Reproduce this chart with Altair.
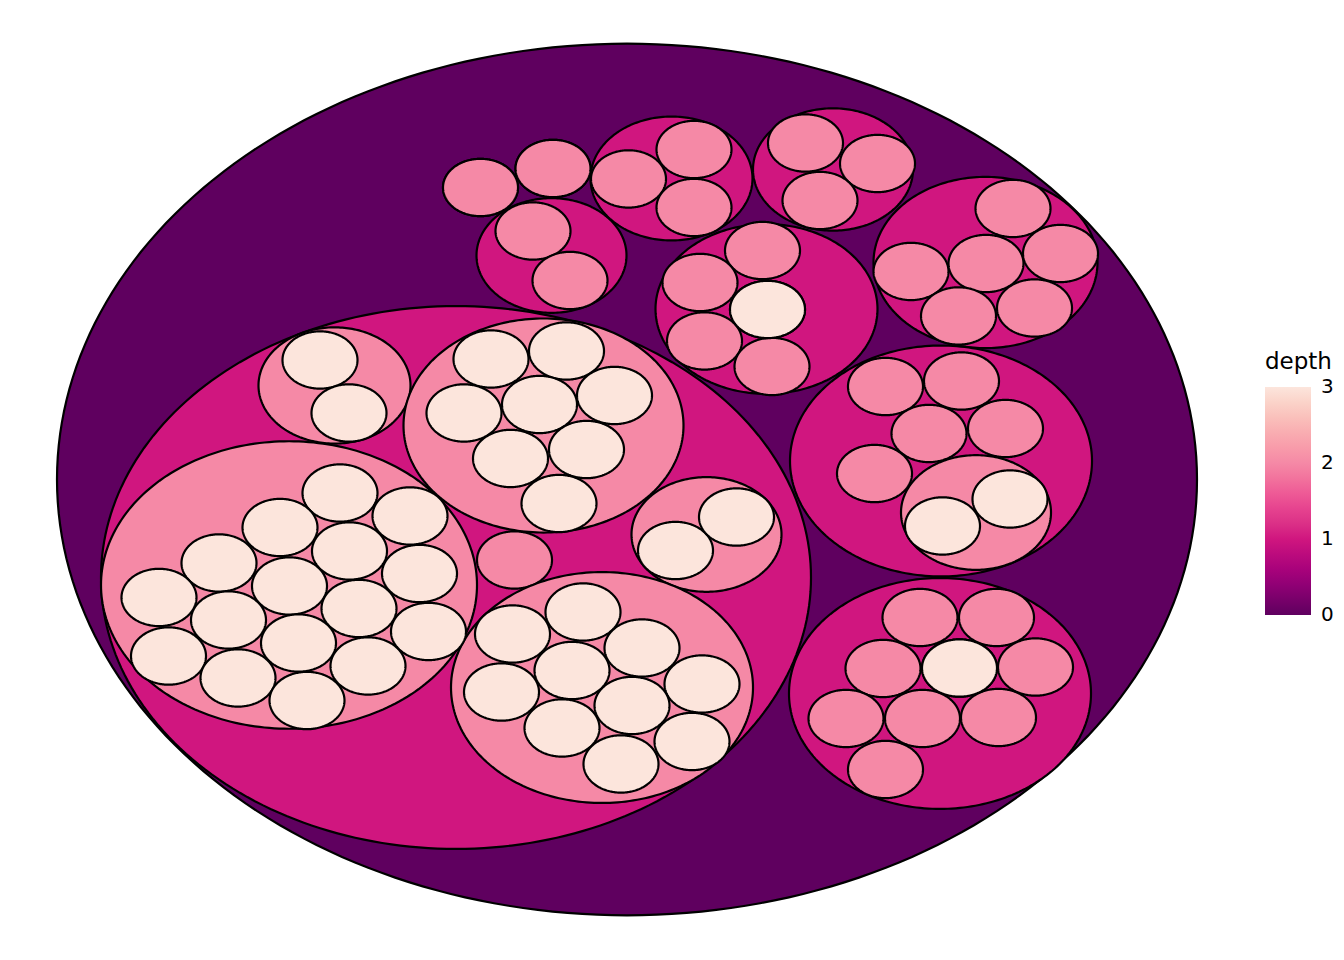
import altair as alt
import pandas as pd

# circle-packing layout (data units; r = radius)
depth = ([0]
         + [1] * 10
         + [2] * 42
         + [3] * 42)

cx = ([0]
      # depth 1
      + [-171, -75.5, 44.5, 206, 139.5, 358.5, 314, 313, -146.5, -74]
      # depth 2
      + [-338, -292.5, -83.5, 79.5, -112.5, -25,
         -94, -57,
         67, 1.5, 67,
         178.5, 250.5, 193,
         135.5, 73, 140.5, 77.5, 145,
         386, 433.5, 284, 359, 331.5, 407.5,
         258.5, 334.5, 302, 378.5, 247.5, 349,
         293, 369.5, 256, 332.5, 408.5, 219, 295.5, 371.5, 258.5,
         -146.5, -74]
      # depth 3
      + [-287, -347, -217, -408, -277.5, -207.5, -468, -337.5,
         -268, -398.5, -198.5, -458.5, -328.5, -259, -389, -320,
         -307, -278,
         -136, -60.5, -163, -87.5, -12.5, -116.5, -40.5, -68,
         48.5, 109.5,
         -44, -114.5, 15, -55, -125.5, 75, 5, -65, 65, -6,
         140.5,
         315.5, 383,
         332.5])

cy = ([0]
      + [-128.2, 293.0, 393.7, 405.5, 223.0, 283.8, 24.2, -279.9, 381.9, 406.8]
      + [-138.0, 123.0, 70.6, -71.9, -105.3, -272.1,
         325.0, 260.3,
         431.6, 393.1, 355.8,
         440.1, 413.3, 364.9,
         299.5, 257.7, 222.4, 181.2, 147.8,
         354.5, 295.6, 272.1, 282.5, 213.9, 224.3,
         121.6, 128.8, 60.2, 66.7, 7.8, -43.2,
         -180.5, -180.5, -247.2, -246.6, -245.3, -312.6, -312.6, -311.3, -379.3,
         381.9, 406.8]
      + [-17.7, -62.8, -47.7, -109.2, -93.5, -123.0, -154.3, -139.3,
         -168.7, -183.8, -198.8, -230.9, -213.9, -243.9, -259.6, -289.1,
         156.3, 87.0,
         157.6, 168.1, 87.0, 98.1, 109.9, 27.5, 39.2, -31.4,
         -92.9, -49.1,
         -173.3, -202.1, -220.4, -249.8, -278.0, -267.5, -295.6, -325.0, -342.7, -372.1,
         222.4,
         -60.8, -25.5,
         -246.6])

radius = ([570]
          + [355, 75, 81, 80, 111, 112, 151, 151, 37.5, 37.5]
          + [188, 76, 140, 75, 37.5, 151]
          + [37.5] * 24 + [75] + [37.5] * 11
          + [37.5] * 42)

depth_colors = ["#5f005f", "#9e0079", "#d0167f", "#ec4c93", "#f589a6", "#f9b6b6", "#fce5dc"]
depth_stops = [-0.002, 0.5, 1, 1.5, 2, 2.5, 3.002]
legend_values = [0, 1, 2, 3]

df = pd.DataFrame({"id": list(range(len(cx))), "depth": depth,
                   "cx": cx, "cy": cy, "r": radius})

base = alt.Chart(df).transform_calculate(
    t="sequence(0, 121)"
).transform_flatten(["t"]).transform_calculate(
    a="PI * datum.t / 120",
    px="datum.cx + datum.r * cos(datum.a)",
    ytop="datum.cy + datum.r * sin(datum.a)",
    ybot="datum.cy - datum.r * sin(datum.a)",
)

fill = alt.Fill(
    "depth:Q",
    scale=alt.Scale(domain=depth_stops, range=depth_colors),
    legend=alt.Legend(
        title="depth", orient="none", legendX=1257, legendY=343,
        direction="vertical", gradientLength=228, gradientThickness=46,
        values=legend_values, format="d",
        labelFontSize=20, titleFontSize=23, labelFont="DejaVu Sans",
        titleFont="DejaVu Sans", titleFontWeight="normal",
        labelColor="black", titleColor="black", gradientStrokeWidth=0,
        titlePadding=13, labelOffset=10, padding=0,
        labelOverlap=False,
    ),
)

layers = []
for d in range(4):
    layers.append(
        base.transform_filter(f"datum.depth == {d}")
        .mark_area(stroke="black", strokeWidth=2.2, interpolate="linear", opacity=1, fillOpacity=1)
        .encode(
            x=alt.X("px:Q", scale=alt.Scale(domain=[-619, 631], nice=False, zero=False), axis=None),
            y=alt.Y("ytop:Q", scale=alt.Scale(domain=[-580.1, 616.7], nice=False, zero=False), axis=None),
            y2="ybot:Q",
            fill=fill,
            detail="id:N",
        )
    )

chart = alt.layer(*layers).properties(
    width=1250, height=915,
    autosize="none",
    padding={"left": 0, "top": 0, "right": 78, "bottom": 6},
).configure_view(stroke=None)

chart.save("out.html", embed_options={"renderer": "svg", "actions": False})
